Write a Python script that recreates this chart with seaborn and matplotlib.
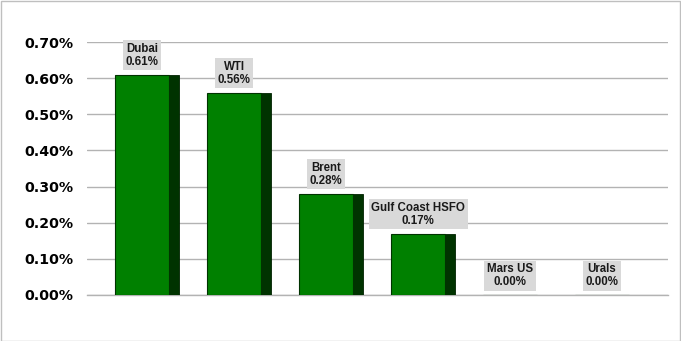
import matplotlib
matplotlib.use("Agg")
import matplotlib.pyplot as plt
import seaborn as sns
import pandas as pd
from matplotlib.patches import Rectangle
from matplotlib.ticker import FuncFormatter

categories = ["Dubai", "WTI", "Brent", "Gulf Coast HSFO", "Mars US", "Urals"]
values = [0.61, 0.56, 0.28, 0.17, 0.00, 0.00]
yticks = [0.0, 0.1, 0.2, 0.3, 0.4, 0.5, 0.6, 0.7]

df = pd.DataFrame({"cat": categories, "val": values})

sns.set_theme(style="white")
plt.rcParams["font.family"] = ["Liberation Sans", "DejaVu Sans"]

fig = plt.figure(figsize=(6.81, 3.41), dpi=100)
ax = fig.add_axes([87 / 681, 46 / 341, 581 / 681, 253 / 341])

sns.barplot(data=df, x="cat", y="val", ax=ax, color="#008000", saturation=1,
            width=0.587, edgecolor="#003300", linewidth=0.8, zorder=3)

depth = 0.109
for p in ax.patches[:len(categories)]:
    x0 = p.get_x() + p.get_width()
    h = p.get_height()
    if h > 0:
        ax.add_patch(Rectangle((x0, 0), depth, h, facecolor="#003300",
                               edgecolor="#002200", linewidth=0.6, zorder=2.9))

for i, (c, v) in enumerate(zip(categories, values)):
    ax.annotate(f"{c}\n{v:.2f}%", xy=(i, v), xytext=(0, 5), textcoords="offset points",
                ha="center", va="bottom", fontsize=8.3, fontweight="bold",
                color="#1a1a1a", linespacing=1.1,
                bbox=dict(boxstyle="square,pad=0.22", facecolor="#d9d9d9", edgecolor="none"),
                zorder=5)

ax.set_xlim(-0.598, 5.717)
ax.set_ylim(0, 0.70)
ax.set_yticks(yticks)
ax.yaxis.set_major_formatter(FuncFormatter(lambda v, _: f"{v:.2f}%"))
for lab in ax.get_yticklabels():
    lab.set_fontweight("bold")
    lab.set_fontfamily("DejaVu Sans")
    lab.set_fontsize(10.2)
    lab.set_color("black")
ax.tick_params(axis="y", length=0, pad=10)
ax.set_xticks([])
ax.set_xlabel("")
ax.set_ylabel("")
ax.grid(axis="y", color="#b3b3b3", linewidth=1, zorder=0)
ax.set_axisbelow(True)
for s in ["top", "right", "left"]:
    ax.spines[s].set_visible(False)
ax.spines["bottom"].set_color("#b3b3b3")
ax.spines["bottom"].set_linewidth(1)

fig.patches.append(Rectangle((0.5 / 681, 0.5 / 341), 679.5 / 681, 339.5 / 341,
                             transform=fig.transFigure, fill=False,
                             edgecolor="#bfbfbf", linewidth=1))

fig.savefig("out.png", dpi=100)
